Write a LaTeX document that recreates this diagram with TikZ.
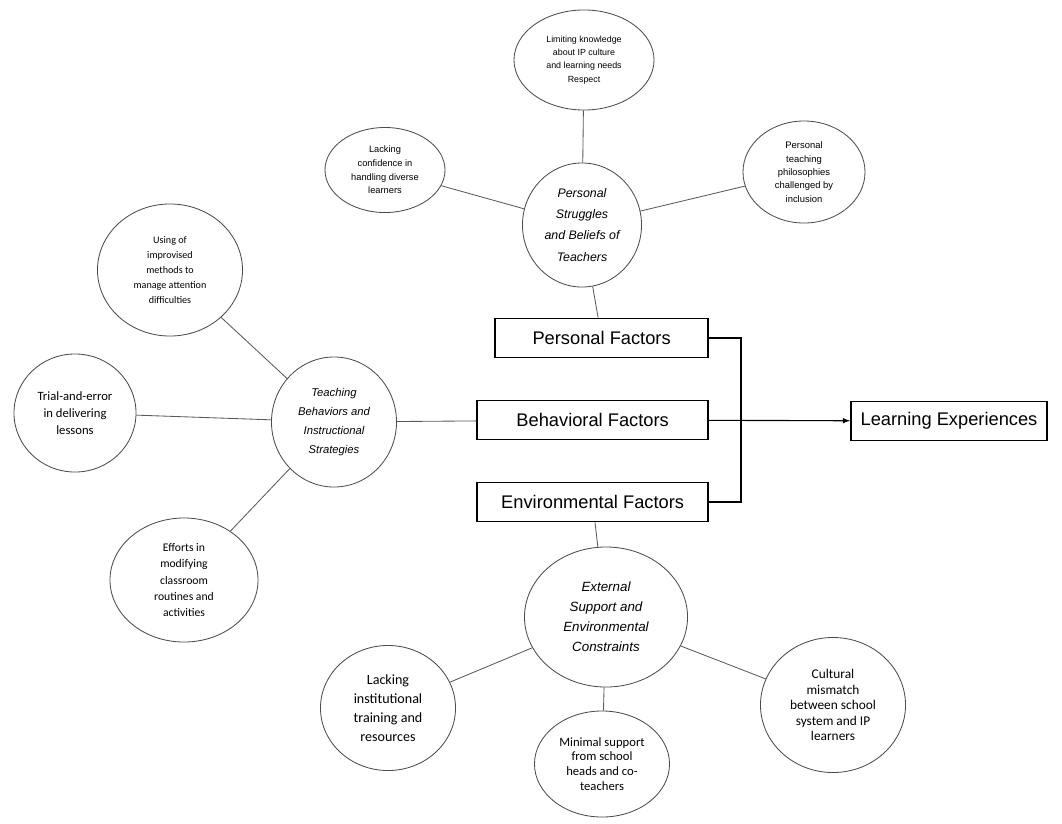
\documentclass[tikz,border=0pt]{standalone}
\usepackage{fontspec}
\setmainfont{Liberation Sans}
\newfontfamily\calfont{Carlito}
\usetikzlibrary{shapes.geometric}
\tikzset{
    bubble/.style={draw=black!70,ellipse,inner sep=0pt,align=center,line width=0.6pt},
    factor/.style={draw,line width=1.2pt,rectangle,minimum height=0.98cm,anchor=east,font=\fontsize{13}{15}\selectfont},
    link/.style={draw=black!65,line width=0.6pt}
}

\begin{document}
\begin{tikzpicture}[x=0.025cm,y=-0.025cm]
\useasboundingbox (0,0) rectangle (1062,823);

    \node[factor,minimum width=5.325cm] (pf) at (709,338) {Personal Factors};
    \node[factor,minimum width=5.775cm] (bf) at (709,420) {Behavioral Factors};
    \node[factor,minimum width=5.775cm] (ef) at (709,502) {Environmental Factors};
    \node[draw,line width=1.2pt,minimum width=4.9cm,minimum height=0.98cm,font=\fontsize{13}{15}\selectfont] (le) at (949,421) {Learning Experiences};

    \node[bubble,minimum width=2.975cm,minimum height=3.1cm,font=\fontsize{8.8}{15}\selectfont\itshape] (pers) at (582,225)
    {Personal\\Struggles\\and Beliefs of\\Teachers};
    \node[bubble,minimum width=3.5cm,minimum height=2.5cm,font=\fontsize{6.3}{9.5}\selectfont] (lim) at (584,60)
    {Limiting knowledge\\about IP culture\\and learning needs\\Respect};
    \node[bubble,minimum width=3cm,minimum height=2.125cm,font=\fontsize{6.6}{9.7}\selectfont] (conf) at (385,170)
    {Lacking\\confidence in\\handling diverse\\learners};
    \node[bubble,minimum width=3.05cm,minimum height=2.55cm,font=\fontsize{6.7}{9.5}\selectfont] (phil) at (804,172)
    {Personal\\teaching\\philosophies\\challenged by\\inclusion};

    \node[bubble,minimum width=3.125cm,minimum height=3.25cm,font=\fontsize{8}{13.5}\selectfont\itshape] (teach) at (334,422)
    {Teaching\\Behaviors and\\Instructional\\Strategies};
    \node[bubble,minimum width=3.625cm,minimum height=3.3cm,font=\calfont\fontsize{7.2}{10.7}\selectfont] (imp) at (170,270)
    {Using of\\improvised\\methods to\\manage attention\\difficulties};
    \node[bubble,minimum width=3.05cm,minimum height=2.95cm,font=\calfont\fontsize{9}{12}\selectfont] (trial) at (75,413)
    {Trial-and-error\\in delivering\\lessons};
    \node[bubble,minimum width=3.7cm,minimum height=3.1cm,font=\calfont\fontsize{8.3}{11.4}\selectfont] (eff) at (184,580)
    {Efforts in\\modifying\\classroom\\routines and\\activities};

    \node[bubble,minimum width=4.075cm,minimum height=3.5cm,font=\fontsize{9.5}{14.2}\selectfont\itshape] (ext) at (606,617)
    {External\\Support and\\Environmental\\Constraints};
    \node[bubble,minimum width=3.375cm,minimum height=3.125cm,font=\calfont\fontsize{10}{13.5}\selectfont] (inst) at (388,708)
    {Lacking\\institutional\\training and\\resources};
    \node[bubble,minimum width=3.375cm,minimum height=2.65cm,font=\calfont\fontsize{9}{10.5}\selectfont] (min) at (602,764)
    {Minimal support\\from school\\heads and co-\\teachers};
    \node[bubble,minimum width=3.625cm,minimum height=3.375cm,font=\calfont\fontsize{9.5}{11}\selectfont] (cult) at (833,705)
    {Cultural\\mismatch\\between school\\system and IP\\learners};

    \draw[link] (lim) -- (pers);
    \draw[link] (conf) -- (pers);
    \draw[link] (phil) -- (pers);
    \draw[link] (pers) -- (pf);
    \draw[link] (imp) -- (teach);
    \draw[link] (trial) -- (teach);
    \draw[link] (eff) -- (teach);
    \draw[link] (teach) -- (bf);
    \draw[link] (ef) -- (ext);
    \draw[link] (ext) -- (inst);
    \draw[link] (ext) -- (min);
    \draw[link] (ext) -- (cult);

    \draw[line width=0.9pt] (pf.east) -- ++(32,0) |- (ef.east);
    \draw[->,>=latex,line width=0.8pt] (bf) -- (le);
\end{tikzpicture}
\end{document}
